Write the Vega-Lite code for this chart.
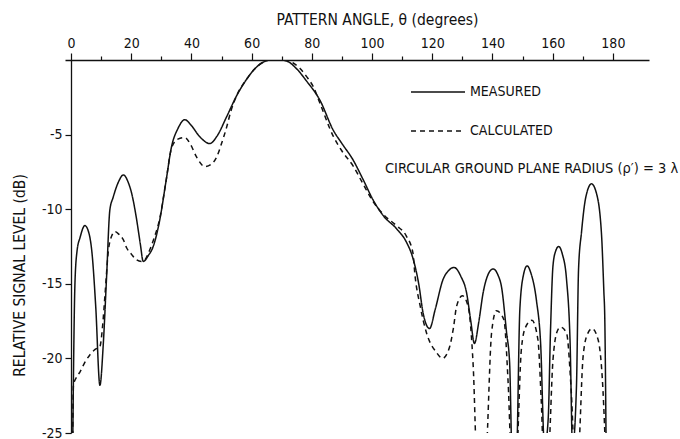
{
  "$schema": "https://vega.github.io/schema/vega-lite/v6.json",
  "width": 584,
  "height": 373,
  "autosize": {"type": "none"},
  "padding": {"left": 65, "top": 60, "right": 31, "bottom": 6},
  "background": "white",
  "config": {
    "view": {"stroke": null},
    "font": "Liberation Sans Narrow, DejaVu Sans Condensed, sans-serif"
  },
  "data": {
    "values": [
      {"series": "MEASURED", "theta": 0.5, "level": -27},
      {"series": "MEASURED", "theta": 1.3, "level": -15},
      {"series": "MEASURED", "theta": 2.0, "level": -12.8},
      {"series": "MEASURED", "theta": 3.0, "level": -11.9},
      {"series": "MEASURED", "theta": 4.6, "level": -11.1},
      {"series": "MEASURED", "theta": 5.8, "level": -11.5},
      {"series": "MEASURED", "theta": 7.0, "level": -13.0},
      {"series": "MEASURED", "theta": 8.2, "level": -16.5},
      {"series": "MEASURED", "theta": 9.6, "level": -21.8},
      {"series": "MEASURED", "theta": 10.7, "level": -19.1},
      {"series": "MEASURED", "theta": 11.8, "level": -14.6},
      {"series": "MEASURED", "theta": 12.9, "level": -10.05},
      {"series": "MEASURED", "theta": 14.0, "level": -9.2},
      {"series": "MEASURED", "theta": 15.7, "level": -8.2},
      {"series": "MEASURED", "theta": 17.4, "level": -7.7},
      {"series": "MEASURED", "theta": 19.0, "level": -8.2},
      {"series": "MEASURED", "theta": 20.1, "level": -8.9},
      {"series": "MEASURED", "theta": 21.8, "level": -10.7},
      {"series": "MEASURED", "theta": 23.0, "level": -12.3},
      {"series": "MEASURED", "theta": 24.0, "level": -13.5},
      {"series": "MEASURED", "theta": 25.7, "level": -13.1},
      {"series": "MEASURED", "theta": 27.3, "level": -12.5},
      {"series": "MEASURED", "theta": 29.5, "level": -10.7},
      {"series": "MEASURED", "theta": 31.5, "level": -8.2},
      {"series": "MEASURED", "theta": 33.4, "level": -5.8},
      {"series": "MEASURED", "theta": 35.5, "level": -4.6},
      {"series": "MEASURED", "theta": 37.8, "level": -4.0},
      {"series": "MEASURED", "theta": 40.0, "level": -4.4},
      {"series": "MEASURED", "theta": 42.8, "level": -5.15},
      {"series": "MEASURED", "theta": 46.1, "level": -5.6},
      {"series": "MEASURED", "theta": 48.5, "level": -5.1},
      {"series": "MEASURED", "theta": 51.7, "level": -3.8},
      {"series": "MEASURED", "theta": 55.0, "level": -2.4},
      {"series": "MEASURED", "theta": 58.3, "level": -1.3},
      {"series": "MEASURED", "theta": 61.0, "level": -0.6},
      {"series": "MEASURED", "theta": 63.8, "level": -0.15},
      {"series": "MEASURED", "theta": 66.0, "level": 0},
      {"series": "MEASURED", "theta": 70.0, "level": 0},
      {"series": "MEASURED", "theta": 72.0, "level": -0.1},
      {"series": "MEASURED", "theta": 75.0, "level": -0.6},
      {"series": "MEASURED", "theta": 78.2, "level": -1.4},
      {"series": "MEASURED", "theta": 82.7, "level": -2.7},
      {"series": "MEASURED", "theta": 87.1, "level": -4.7},
      {"series": "MEASURED", "theta": 90.0, "level": -5.6},
      {"series": "MEASURED", "theta": 93.7, "level": -6.7},
      {"series": "MEASURED", "theta": 97.0, "level": -8.0},
      {"series": "MEASURED", "theta": 100.4, "level": -9.4},
      {"series": "MEASURED", "theta": 104.0, "level": -10.5},
      {"series": "MEASURED", "theta": 108.1, "level": -11.3},
      {"series": "MEASURED", "theta": 111.4, "level": -12.2},
      {"series": "MEASURED", "theta": 113.6, "level": -13.3},
      {"series": "MEASURED", "theta": 115.5, "level": -15.0},
      {"series": "MEASURED", "theta": 117.0, "level": -17.0},
      {"series": "MEASURED", "theta": 119.1, "level": -18.0},
      {"series": "MEASURED", "theta": 121.0, "level": -16.7},
      {"series": "MEASURED", "theta": 123.6, "level": -14.7},
      {"series": "MEASURED", "theta": 125.5, "level": -14.1},
      {"series": "MEASURED", "theta": 127.2, "level": -13.9},
      {"series": "MEASURED", "theta": 129.5, "level": -14.5},
      {"series": "MEASURED", "theta": 131.4, "level": -15.6},
      {"series": "MEASURED", "theta": 132.8, "level": -17.5},
      {"series": "MEASURED", "theta": 134.0, "level": -19.0},
      {"series": "MEASURED", "theta": 135.5, "level": -17.5},
      {"series": "MEASURED", "theta": 136.9, "level": -15.6},
      {"series": "MEASURED", "theta": 138.5, "level": -14.4},
      {"series": "MEASURED", "theta": 140.2, "level": -14.0},
      {"series": "MEASURED", "theta": 141.8, "level": -14.4},
      {"series": "MEASURED", "theta": 143.0, "level": -15.2},
      {"series": "MEASURED", "theta": 144.7, "level": -18.3},
      {"series": "MEASURED", "theta": 145.7, "level": -20.3},
      {"series": "MEASURED", "theta": 146.6, "level": -27},
      {"series": "MEASURED", "theta": 147.9, "level": -27},
      {"series": "MEASURED", "theta": 149.1, "level": -16.7},
      {"series": "MEASURED", "theta": 150.3, "level": -14.4},
      {"series": "MEASURED", "theta": 151.5, "level": -13.8},
      {"series": "MEASURED", "theta": 152.8, "level": -14.3},
      {"series": "MEASURED", "theta": 154.6, "level": -16.1},
      {"series": "MEASURED", "theta": 156.0, "level": -19.0},
      {"series": "MEASURED", "theta": 157.3, "level": -26},
      {"series": "MEASURED", "theta": 158.5, "level": -24.1},
      {"series": "MEASURED", "theta": 159.3, "level": -18.0},
      {"series": "MEASURED", "theta": 160.1, "level": -13.8},
      {"series": "MEASURED", "theta": 161.0, "level": -12.8},
      {"series": "MEASURED", "theta": 162.0, "level": -12.5},
      {"series": "MEASURED", "theta": 163.2, "level": -13.0},
      {"series": "MEASURED", "theta": 164.6, "level": -14.7},
      {"series": "MEASURED", "theta": 165.8, "level": -19.0},
      {"series": "MEASURED", "theta": 166.6, "level": -26},
      {"series": "MEASURED", "theta": 167.9, "level": -21.9},
      {"series": "MEASURED", "theta": 168.6, "level": -14.0},
      {"series": "MEASURED", "theta": 169.6, "level": -11.5},
      {"series": "MEASURED", "theta": 171.0, "level": -9.2},
      {"series": "MEASURED", "theta": 172.9, "level": -8.3},
      {"series": "MEASURED", "theta": 174.5, "level": -8.9},
      {"series": "MEASURED", "theta": 176.2, "level": -11.6},
      {"series": "MEASURED", "theta": 177.0, "level": -15.5},
      {"series": "MEASURED", "theta": 177.3, "level": -17.2},
      {"series": "MEASURED", "theta": 177.8, "level": -27},
      {"series": "CALCULATED", "theta": 0.5, "level": -27},
      {"series": "CALCULATED", "theta": 0.8, "level": -21.8},
      {"series": "CALCULATED", "theta": 2.0, "level": -21.2},
      {"series": "CALCULATED", "theta": 3.0, "level": -20.9},
      {"series": "CALCULATED", "theta": 4.5, "level": -20.3},
      {"series": "CALCULATED", "theta": 6.3, "level": -19.75},
      {"series": "CALCULATED", "theta": 8.0, "level": -19.4},
      {"series": "CALCULATED", "theta": 9.6, "level": -19.2},
      {"series": "CALCULATED", "theta": 10.5, "level": -17.8},
      {"series": "CALCULATED", "theta": 11.3, "level": -15.7},
      {"series": "CALCULATED", "theta": 12.4, "level": -12.8},
      {"series": "CALCULATED", "theta": 13.5, "level": -11.8},
      {"series": "CALCULATED", "theta": 14.6, "level": -11.5},
      {"series": "CALCULATED", "theta": 16.0, "level": -11.7},
      {"series": "CALCULATED", "theta": 17.4, "level": -12.06},
      {"series": "CALCULATED", "theta": 18.5, "level": -12.6},
      {"series": "CALCULATED", "theta": 20.0, "level": -13.0},
      {"series": "CALCULATED", "theta": 21.8, "level": -13.4},
      {"series": "CALCULATED", "theta": 23.4, "level": -13.5},
      {"series": "CALCULATED", "theta": 24.5, "level": -13.4},
      {"series": "CALCULATED", "theta": 26.0, "level": -12.8},
      {"series": "CALCULATED", "theta": 27.5, "level": -12.0},
      {"series": "CALCULATED", "theta": 29.5, "level": -10.6},
      {"series": "CALCULATED", "theta": 31.5, "level": -8.2},
      {"series": "CALCULATED", "theta": 33.4, "level": -5.9},
      {"series": "CALCULATED", "theta": 35.5, "level": -5.3},
      {"series": "CALCULATED", "theta": 37.8, "level": -5.2},
      {"series": "CALCULATED", "theta": 39.8, "level": -5.7},
      {"series": "CALCULATED", "theta": 41.7, "level": -6.5},
      {"series": "CALCULATED", "theta": 44.5, "level": -7.15},
      {"series": "CALCULATED", "theta": 46.5, "level": -7.0},
      {"series": "CALCULATED", "theta": 48.4, "level": -6.5},
      {"series": "CALCULATED", "theta": 50.0, "level": -5.6},
      {"series": "CALCULATED", "theta": 51.7, "level": -4.5},
      {"series": "CALCULATED", "theta": 53.0, "level": -3.5},
      {"series": "CALCULATED", "theta": 55.0, "level": -2.4},
      {"series": "CALCULATED", "theta": 58.3, "level": -1.3},
      {"series": "CALCULATED", "theta": 61.0, "level": -0.6},
      {"series": "CALCULATED", "theta": 63.8, "level": -0.15},
      {"series": "CALCULATED", "theta": 66.0, "level": 0},
      {"series": "CALCULATED", "theta": 71.0, "level": 0},
      {"series": "CALCULATED", "theta": 73.8, "level": -0.2},
      {"series": "CALCULATED", "theta": 76.0, "level": -0.55},
      {"series": "CALCULATED", "theta": 78.2, "level": -1.1},
      {"series": "CALCULATED", "theta": 80.5, "level": -1.8},
      {"series": "CALCULATED", "theta": 82.7, "level": -2.9},
      {"series": "CALCULATED", "theta": 87.1, "level": -5.1},
      {"series": "CALCULATED", "theta": 90.0, "level": -6.1},
      {"series": "CALCULATED", "theta": 93.7, "level": -7.1},
      {"series": "CALCULATED", "theta": 97.0, "level": -8.3},
      {"series": "CALCULATED", "theta": 100.4, "level": -9.5},
      {"series": "CALCULATED", "theta": 104.0, "level": -10.4},
      {"series": "CALCULATED", "theta": 108.1, "level": -11.1},
      {"series": "CALCULATED", "theta": 111.4, "level": -11.8},
      {"series": "CALCULATED", "theta": 113.6, "level": -12.95},
      {"series": "CALCULATED", "theta": 114.2, "level": -14.3},
      {"series": "CALCULATED", "theta": 116.0, "level": -16.5},
      {"series": "CALCULATED", "theta": 118.1, "level": -18.3},
      {"series": "CALCULATED", "theta": 121.4, "level": -19.6},
      {"series": "CALCULATED", "theta": 123.4, "level": -20.0},
      {"series": "CALCULATED", "theta": 125.8, "level": -19.2},
      {"series": "CALCULATED", "theta": 127.0, "level": -18.0},
      {"series": "CALCULATED", "theta": 128.1, "level": -16.5},
      {"series": "CALCULATED", "theta": 130.0, "level": -15.8},
      {"series": "CALCULATED", "theta": 131.9, "level": -16.5},
      {"series": "CALCULATED", "theta": 133.6, "level": -20.5},
      {"series": "CALCULATED", "theta": 134.9, "level": -27},
      {"series": "CALCULATED", "theta": 137.6, "level": -27},
      {"series": "CALCULATED", "theta": 139.7, "level": -18.3},
      {"series": "CALCULATED", "theta": 141.3, "level": -16.8},
      {"series": "CALCULATED", "theta": 143.8, "level": -17.4},
      {"series": "CALCULATED", "theta": 145.2, "level": -21.6},
      {"series": "CALCULATED", "theta": 146.4, "level": -27},
      {"series": "CALCULATED", "theta": 147.8, "level": -27},
      {"series": "CALCULATED", "theta": 149.6, "level": -19.4},
      {"series": "CALCULATED", "theta": 151.0, "level": -17.9},
      {"series": "CALCULATED", "theta": 153.1, "level": -17.45},
      {"series": "CALCULATED", "theta": 155.1, "level": -18.75},
      {"series": "CALCULATED", "theta": 156.2, "level": -22.8},
      {"series": "CALCULATED", "theta": 157.1, "level": -27},
      {"series": "CALCULATED", "theta": 158.4, "level": -27},
      {"series": "CALCULATED", "theta": 160.1, "level": -20.1},
      {"series": "CALCULATED", "theta": 161.3, "level": -18.3},
      {"series": "CALCULATED", "theta": 162.6, "level": -17.9},
      {"series": "CALCULATED", "theta": 164.6, "level": -18.3},
      {"series": "CALCULATED", "theta": 166.2, "level": -22.3},
      {"series": "CALCULATED", "theta": 167.4, "level": -27},
      {"series": "CALCULATED", "theta": 168.3, "level": -27},
      {"series": "CALCULATED", "theta": 170.1, "level": -19.9},
      {"series": "CALCULATED", "theta": 171.5, "level": -18.4},
      {"series": "CALCULATED", "theta": 173.1, "level": -18.0},
      {"series": "CALCULATED", "theta": 175.1, "level": -18.75},
      {"series": "CALCULATED", "theta": 176.7, "level": -22.1},
      {"series": "CALCULATED", "theta": 177.7, "level": -27}
    ]
  },
  "mark": {"type": "line", "interpolate": "monotone", "color": "#111", "strokeWidth": 1.5, "clip": true},
  "encoding": {
    "x": {
      "field": "theta",
      "type": "quantitative",
      "scale": {"domain": [-2, 192], "nice": false, "zero": false},
      "axis": {
        "orient": "top",
        "values": [0, 10, 20, 30, 40, 50, 60, 70, 80, 90, 100, 110, 120, 130, 140, 150, 160, 170, 180],
        "labelExpr": "datum.value % 20 === 0 ? datum.label : ''",
        "tickSize": {"condition": {"test": "datum.value % 20 === 0", "value": 7}, "value": 4},
        "tickColor": "#111",
        "tickWidth": 1.2,
        "domainColor": "#111",
        "domainWidth": 1.3,
        "grid": false,
        "labelFontSize": 14,
        "labelColor": "#111",
        "labelPadding": 3,
        "labelFlush": false,
        "labelOverlap": false,
        "title": "PATTERN ANGLE, θ (degrees)",
        "titleFontSize": 15.5,
        "titleFontWeight": "normal",
        "titleColor": "#111",
        "titleX": 312,
        "titleY": -41,
        "titleAlign": "center",
        "titleBaseline": "middle"
      }
    },
    "y": {
      "field": "level",
      "type": "quantitative",
      "scale": {"domain": [-25, 0], "nice": false, "zero": false},
      "axis": {
        "orient": "left",
        "offset": -6,
        "values": [-5, -10, -15, -20, -25],
        "labelExpr": "'-' + abs(datum.value)",
        "tickSize": 6,
        "tickColor": "#111",
        "tickWidth": 1.2,
        "domainColor": "#111",
        "domainWidth": 1.3,
        "grid": false,
        "labelFontSize": 14,
        "labelColor": "#111",
        "labelPadding": 3,
        "title": "RELATIVE SIGNAL LEVEL (dB)",
        "titleFontSize": 15.5,
        "titleFontWeight": "normal",
        "titleColor": "#111",
        "titleAngle": -90,
        "titleX": -52,
        "titleY": 215,
        "titleAlign": "center",
        "titleBaseline": "middle"
      }
    },
    "strokeDash": {
      "field": "series",
      "type": "nominal",
      "scale": {"domain": ["MEASURED", "CALCULATED"], "range": [[1, 0], [5, 4]]},
      "legend": {
        "orient": "none",
        "legendX": 320,
        "legendY": 4,
        "direction": "vertical",
        "symbolType": "stroke",
        "symbolSize": 2916,
        "symbolStrokeWidth": 1.5,
        "symbolStrokeColor": "#111",
        "symbolOffset": 25,
        "labelFontSize": 14,
        "labelColor": "#111",
        "labelOffset": 4,
        "rowPadding": 4,
        "title": "CIRCULAR GROUND PLANE RADIUS (ρ′) = 3 λ",
        "titleOrient": "bottom",
        "titleAnchor": "start",
        "titleFontSize": 14.5,
        "titleFontWeight": "normal",
        "titleColor": "#111",
        "titleLimit": 400,
        "titlePadding": 24
      }
    }
  }
}
